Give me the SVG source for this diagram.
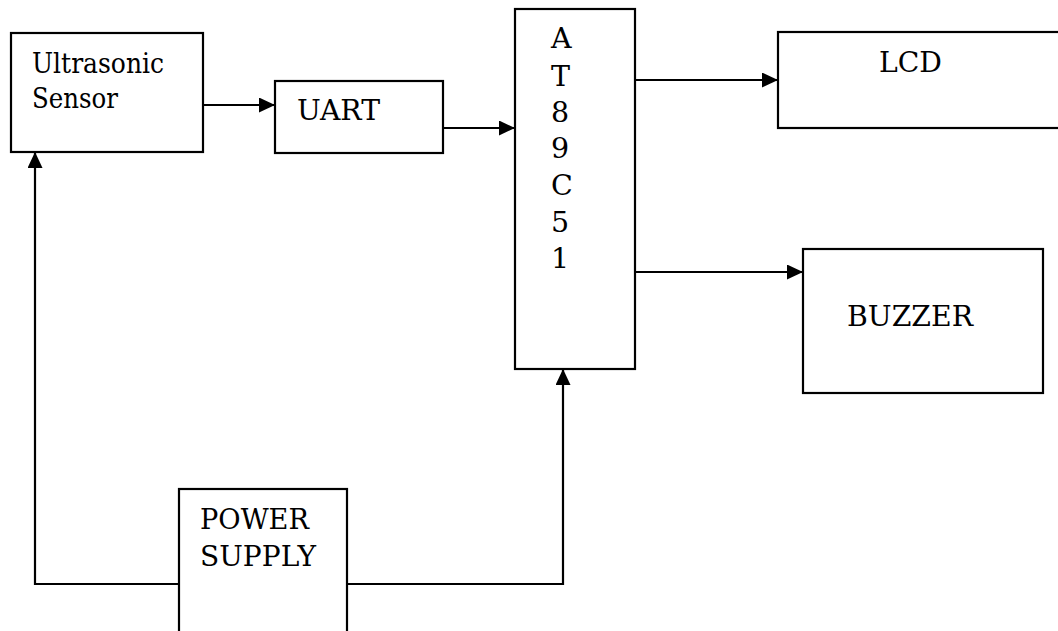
<svg xmlns="http://www.w3.org/2000/svg" width="1058" height="631" viewBox="0 0 1058 631">
<style>
  .box { fill: #ffffff; stroke: #000000; stroke-width: 2.2; }
  .lbl { font-family: 'DejaVu Serif', 'Liberation Serif', serif; font-size: 28.5px; fill: #000000; }
  .wire { fill: none; stroke: #000000; stroke-width: 2.2; }
</style>
<defs>
  <marker id="arrow" viewBox="0 0 16 15" refX="16" refY="7.5" markerWidth="16" markerHeight="15" markerUnits="userSpaceOnUse" orient="auto">
    <path d="M0,0 L16,7.5 L0,15 Z" fill="#000000"/>
  </marker>
</defs>
<rect width="1058" height="631" fill="#ffffff"/>
<g id="connectors">
  <path class="wire" d="M203,105 H275" marker-end="url(#arrow)"/>
  <path class="wire" d="M443,128 H515" marker-end="url(#arrow)"/>
  <path class="wire" d="M635,80 H778" marker-end="url(#arrow)"/>
  <path class="wire" d="M635,272 H803" marker-end="url(#arrow)"/>
  <path class="wire" d="M179,584 H35 V152" marker-end="url(#arrow)"/>
  <path class="wire" d="M347,584 H563 V369" marker-end="url(#arrow)"/>
</g>
<g id="ultrasonic">
  <rect class="box" x="11" y="33" width="192" height="119"/>
  <text class="lbl" x="32" y="73" textLength="132" lengthAdjust="spacingAndGlyphs">Ultrasonic</text>
  <text class="lbl" x="32" y="108" textLength="86" lengthAdjust="spacingAndGlyphs">Sensor</text>
</g>
<g id="uart">
  <rect class="box" x="275" y="81" width="168" height="72"/>
  <text class="lbl" x="297" y="120" textLength="83" lengthAdjust="spacingAndGlyphs">UART</text>
</g>
<g id="mcu">
  <rect class="box" x="515" y="9" width="120" height="360"/>
  <text class="lbl" x="551" y="48">A</text>
  <text class="lbl" x="551" y="86">T</text>
  <text class="lbl" x="551" y="122">8</text>
  <text class="lbl" x="551" y="158">9</text>
  <text class="lbl" x="551" y="195">C</text>
  <text class="lbl" x="551" y="232">5</text>
  <text class="lbl" x="551" y="268">1</text>
</g>
<g id="lcd">
  <rect class="box" x="778" y="32" width="282" height="96"/>
  <text class="lbl" x="879" y="72" textLength="63" lengthAdjust="spacingAndGlyphs">LCD</text>
</g>
<g id="buzzer">
  <rect class="box" x="803" y="249" width="240" height="144"/>
  <text class="lbl" x="847" y="326" textLength="126" lengthAdjust="spacingAndGlyphs">BUZZER</text>
</g>
<g id="power">
  <rect class="box" x="179" y="489" width="168" height="150"/>
  <text class="lbl" x="200" y="529" textLength="109" lengthAdjust="spacingAndGlyphs">POWER</text>
  <text class="lbl" x="200" y="566" textLength="116" lengthAdjust="spacingAndGlyphs">SUPPLY</text>
</g>
</svg>
